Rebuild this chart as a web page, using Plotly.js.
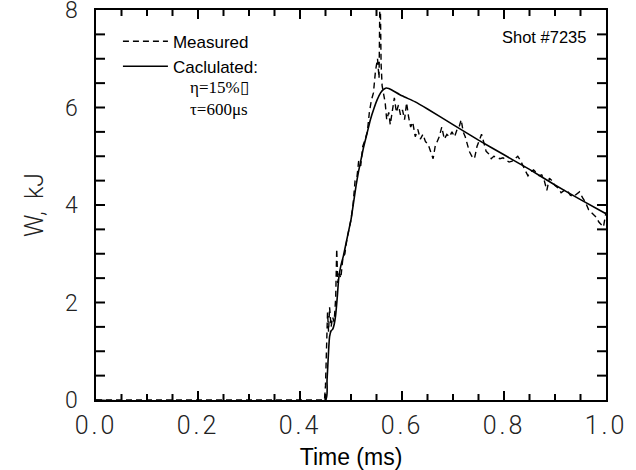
<!DOCTYPE html>
<html>
<head>
<meta charset="utf-8">
<script src="https://cdn.plot.ly/plotly-3.0.1.min.js"></script>
<style>
  html, body { margin: 0; padding: 0; background: #fff; }
  #chart { width: 636px; height: 470px; }
  .xtick text { letter-spacing: 3px; }
</style>
</head>
<body>
<div id="chart"></div>
<script>
// Measured stored energy (dashed)
const measuredT = [
  0.0, 0.448, 0.450, 0.452, 0.454, 0.456, 0.458, 0.461, 0.464, 0.467,
  0.470, 0.472, 0.474, 0.477, 0.480, 0.484, 0.488, 0.492, 0.496, 0.500,
  0.504, 0.508, 0.512, 0.515, 0.519, 0.523, 0.528, 0.532, 0.536, 0.540,
  0.544, 0.548, 0.552, 0.555, 0.557, 0.559, 0.561, 0.564, 0.567, 0.570,
  0.574, 0.577, 0.581, 0.585, 0.589, 0.593, 0.597, 0.601, 0.605, 0.609,
  0.613, 0.617, 0.621, 0.626, 0.631, 0.636, 0.641, 0.646, 0.651, 0.656,
  0.661, 0.665, 0.669, 0.673, 0.678, 0.683, 0.688, 0.693, 0.698, 0.703,
  0.708, 0.712, 0.716, 0.720, 0.724, 0.728, 0.732, 0.737, 0.742, 0.747,
  0.752, 0.756, 0.760, 0.765, 0.770, 0.775, 0.780, 0.786, 0.792, 0.798,
  0.804, 0.810, 0.816, 0.822, 0.827, 0.832, 0.837, 0.842, 0.847, 0.852,
  0.858, 0.864, 0.869, 0.874, 0.879, 0.884, 0.889, 0.894, 0.900, 0.906,
  0.912, 0.918, 0.924, 0.930, 0.936, 0.942, 0.948, 0.954, 0.960, 0.966,
  0.971, 0.976, 0.981, 0.986, 0.990, 0.995, 1.0
];
const measuredW = [
  0, 0, 0.3, 1.2, 1.8, 1.4, 1.9, 1.5, 1.7, 1.6,
  2.1, 3.1, 2.4, 2.6, 2.5, 2.9, 3.0, 3.3, 3.5, 3.7,
  4.0, 4.5, 4.6, 4.9, 4.8, 5.2, 5.35, 5.5, 5.9, 6.15,
  6.3, 6.75, 7.0, 6.6, 8.6, 6.9, 6.45, 6.3, 6.1, 5.75,
  5.9, 5.65, 5.95, 6.2, 5.9, 6.05, 5.85, 5.95, 5.75, 6.1,
  5.8, 5.6, 5.7, 5.4, 5.55, 5.35, 5.45, 5.3, 5.25, 5.1,
  4.95, 5.2, 5.3, 5.4, 5.6, 5.35, 5.45, 5.4, 5.5, 5.4,
  5.55, 5.6, 5.75, 5.5, 5.4, 5.25, 5.1, 5.0, 4.95, 5.2,
  5.35, 5.45, 5.3, 5.1, 5.05, 4.95, 5.0, 4.98, 4.95, 4.97,
  4.93, 4.88, 4.9, 4.95, 5.0, 4.92, 4.8, 4.7, 4.6, 4.68,
  4.72, 4.65, 4.6, 4.62, 4.5, 4.3, 4.55, 4.5, 4.4, 4.35,
  4.25, 4.3, 4.3, 4.2, 4.17, 4.22, 4.27, 4.15, 4.05, 3.9,
  3.85, 3.82, 3.75, 3.65, 3.6, 3.55, 3.85
];

// Calculated stored energy (solid)
const calcT = [
  0.0, 0.450, 0.453, 0.456, 0.458, 0.461, 0.464, 0.467, 0.470, 0.473,
  0.476, 0.480, 0.485, 0.490, 0.495, 0.500, 0.505, 0.510, 0.515, 0.520,
  0.525, 0.531, 0.538, 0.545, 0.551, 0.558, 0.564, 0.569, 0.574, 0.580,
  0.600, 0.625, 0.650, 0.700, 0.750, 0.800, 0.850, 0.900, 0.950, 1.0
];
const calcW = [
  0, 0, 0.4, 1.0, 1.3, 1.42, 1.45, 1.55, 1.75, 2.1,
  2.5, 2.75, 2.95, 3.2, 3.45, 3.7, 4.05, 4.4, 4.7, 4.95,
  5.2, 5.45, 5.75, 5.98, 6.15, 6.3, 6.37, 6.4, 6.39, 6.36,
  6.24, 6.12, 5.97, 5.65, 5.33, 5.03, 4.73, 4.41, 4.11, 3.82
];

// Axis ticks
const xRange = [0, 1.0];
const xMajorStep = 0.2;
const xMinorStep = 0.05;
const yRange = [0, 8];
const yMajorStep = 2;
const yMinorStep = 0.5;

const sans = 'Liberation Sans, Arial, sans-serif';
const light = 'Roboto, Liberation Sans, Arial, sans-serif';
const serif = 'Liberation Serif, Times New Roman, serif';

const traces = [
  {
    x: measuredT, y: measuredW, type: 'scatter', mode: 'lines',
    name: 'Measured',
    line: { color: '#000', width: 1.4, dash: '6px,4px' }
  },
  {
    x: calcT, y: calcW, type: 'scatter', mode: 'lines',
    name: 'Caclulated:',
    line: { color: '#000', width: 1.6, shape: 'spline', smoothing: 0.5 }
  }
];

// Inward tick marks on all four sides, on the axes' own data scale
function isMajor(v, step) {
  const r = v / step;
  return Math.abs(r - Math.round(r)) < 1e-6;
}
const tickShapes = [];
const nx = Math.round((xRange[1] - xRange[0]) / xMinorStep);
for (let i = 1; i < nx; i++) {
  const v = xRange[0] + i * xMinorStep;
  const len = isMajor(v, xMajorStep) ? 9 : 6;
  [[0, len], [1, -len]].forEach(([anchor, l]) => {
    tickShapes.push({
      type: 'line', layer: 'above', xref: 'x', yref: 'paper',
      ysizemode: 'pixel', yanchor: anchor, x0: v, x1: v, y0: 0, y1: l,
      line: { color: '#000', width: 2 }
    });
  });
}
const ny = Math.round((yRange[1] - yRange[0]) / yMinorStep);
for (let i = 1; i < ny; i++) {
  const v = yRange[0] + i * yMinorStep;
  const len = 9;
  [[0, len], [1, -len]].forEach(([anchor, l]) => {
    tickShapes.push({
      type: 'line', layer: 'above', xref: 'paper', yref: 'y',
      xsizemode: 'pixel', xanchor: anchor, x0: 0, x1: l, y0: v, y1: v,
      line: { color: '#000', width: 2 }
    });
  });
}

const layout = {
  width: 636, height: 470,
  margin: { l: 96, r: 30, t: 10, b: 70 },
  paper_bgcolor: '#fff', plot_bgcolor: '#fff',
  showlegend: true,
  legend: {
    x: 0.043, y: 0.965, xanchor: 'left', yanchor: 'top',
    bgcolor: 'rgba(0,0,0,0)', borderwidth: 0,
    font: { family: sans, size: 17, color: '#000' },
    itemwidth: 45,
    tracegroupgap: 0
  },
  xaxis: {
    range: xRange,
    tickmode: 'linear', tick0: 0, dtick: xMajorStep, tickformat: '.1f',
    ticks: '',
    showline: true, linecolor: '#000', linewidth: 1.5, mirror: true,
    showgrid: false, zeroline: false,
    tickfont: { family: light, size: 25, color: '#222', weight: 300 },
    ticklabelstandoff: 2,
    ticklabeloverflow: 'allow',
    title: { text: 'Time (ms)', font: { family: sans, size: 23, color: '#000' }, standoff: 18 }
  },
  yaxis: {
    range: yRange,
    tickmode: 'linear', tick0: 0, dtick: yMajorStep,
    ticks: '',
    showline: true, linecolor: '#000', linewidth: 1.5, mirror: true,
    showgrid: false, zeroline: false,
    tickfont: { family: light, size: 23, color: '#222', weight: 300 },
    ticklabelstandoff: 12,
    ticklabeloverflow: 'allow',
    title: { text: 'W,  kJ', font: { family: light, size: 25, color: '#222', weight: 300 }, standoff: 14 }
  },
  shapes: tickShapes,
  annotations: [
    {
      xref: 'paper', yref: 'paper', x: 0.965, y: 0.93, xanchor: 'right', yanchor: 'middle',
      text: 'Shot #7235', showarrow: false,
      font: { family: sans, size: 16.5, color: '#000' }
    },
    {
      xref: 'paper', yref: 'paper', x: 0.18, y: 0.80, xanchor: 'left', yanchor: 'middle',
      text: 'η=15%\u25AF', showarrow: false,
      font: { family: serif, size: 17, color: '#000' }
    },
    {
      xref: 'paper', yref: 'paper', x: 0.18, y: 0.744, xanchor: 'left', yanchor: 'middle',
      text: 'τ=600μs', showarrow: false,
      font: { family: serif, size: 17, color: '#000' }
    }
  ]
};

Plotly.newPlot('chart', traces, layout, { displayModeBar: false });
</script>
</body>
</html>
